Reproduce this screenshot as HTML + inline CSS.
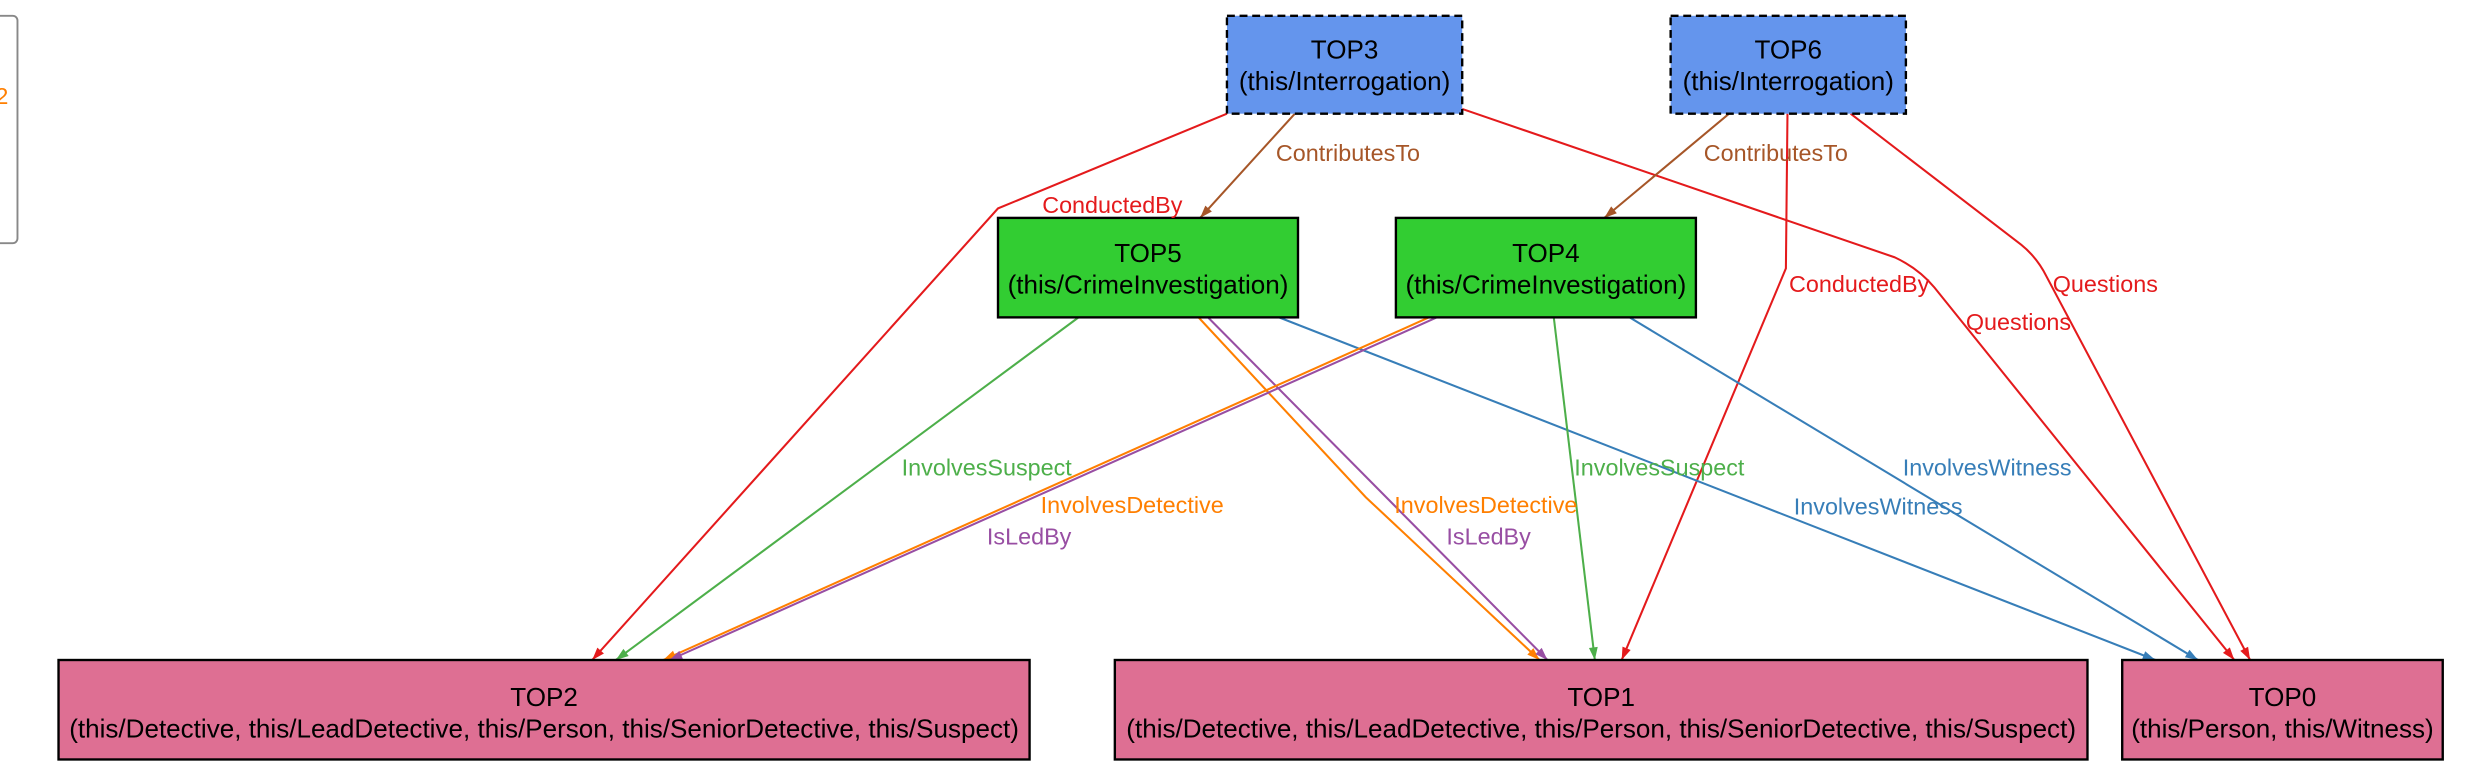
<!DOCTYPE html>
<html><head><meta charset="utf-8"><style>
html,body{margin:0;padding:0;background:#fff;}
svg{display:block;}
text{font-family:"Liberation Sans",sans-serif;}
.bt{font-size:16.5px;fill:#000;text-anchor:middle;}
.lb{font-size:14.8px;}
</style></head><body>
<svg width="2476" height="780" viewBox="0 0 1568 494" xmlns="http://www.w3.org/2000/svg">
<defs>
<marker id="ar" viewBox="0 0 10 10" refX="10" refY="5" markerWidth="9" markerHeight="8" orient="auto" markerUnits="userSpaceOnUse"><path d="M0,1.5 L10,5 L0,8.5 z" fill="context-stroke"/></marker>
</defs>
<g fill="none" stroke-width="1.3">
<path d="M777,72 L632,132 L375,418" stroke="#e41a1c" marker-end="url(#ar)"/>
<path d="M820,72 L760,138" stroke="#a65628" marker-end="url(#ar)"/>
<path d="M926,69 L1200,163 Q1215,170 1225,182 L1415,418" stroke="#e41a1c" marker-end="url(#ar)"/>
<path d="M1095,72 L1016,138" stroke="#a65628" marker-end="url(#ar)"/>
<path d="M1132,72 L1131,170 L1027,418" stroke="#e41a1c" marker-end="url(#ar)"/>
<path d="M1172,72 L1280,155 Q1290,163 1296,175 L1425,418" stroke="#e41a1c" marker-end="url(#ar)"/>
<path d="M683,201 L390,418" stroke="#4daf4a" marker-end="url(#ar)"/>
<path d="M759,201 L865,315 L975,418" stroke="#ff7f00" marker-end="url(#ar)"/>
<path d="M765,201 L980,418" stroke="#984ea3" marker-end="url(#ar)"/>
<path d="M810,201 L1365,418" stroke="#377eb8" marker-end="url(#ar)"/>
<path d="M905,201 L420,418" stroke="#ff7f00" marker-end="url(#ar)"/>
<path d="M910,201 L424,418" stroke="#984ea3" marker-end="url(#ar)"/>
<path d="M984,201 L1010,418" stroke="#4daf4a" marker-end="url(#ar)"/>
<path d="M1032,201 L1392,418" stroke="#377eb8" marker-end="url(#ar)"/>
</g>
<rect x="-10" y="10" width="21" height="144" rx="3" fill="#fff" stroke="#888" stroke-width="1.2"/>
<text x="-3" y="66" class="lb" fill="#ff7f00">2</text>
<rect x="777" y="10" width="149" height="62" fill="#6495ed" stroke="#000" stroke-width="1.5" stroke-dasharray="5,3"/>
<text x="851.5" y="37" class="bt">TOP3</text><text x="851.5" y="57" class="bt">(this/Interrogation)</text>
<rect x="1058" y="10" width="149" height="62" fill="#6495ed" stroke="#000" stroke-width="1.5" stroke-dasharray="5,3"/>
<text x="1132.5" y="37" class="bt">TOP6</text><text x="1132.5" y="57" class="bt">(this/Interrogation)</text>
<rect x="632" y="138" width="190" height="63" fill="#32cd32" stroke="#000" stroke-width="1.5"/>
<text x="727" y="166" class="bt">TOP5</text><text x="727" y="186" class="bt">(this/CrimeInvestigation)</text>
<rect x="884" y="138" width="190" height="63" fill="#32cd32" stroke="#000" stroke-width="1.5"/>
<text x="979" y="166" class="bt">TOP4</text><text x="979" y="186" class="bt">(this/CrimeInvestigation)</text>
<rect x="37" y="418" width="615" height="63" fill="#de6f93" stroke="#000" stroke-width="1.5"/>
<text x="344.5" y="447" class="bt">TOP2</text><text x="344.5" y="467" class="bt">(this/Detective, this/LeadDetective, this/Person, this/SeniorDetective, this/Suspect)</text>
<rect x="706" y="418" width="616" height="63" fill="#de6f93" stroke="#000" stroke-width="1.5"/>
<text x="1014" y="447" class="bt">TOP1</text><text x="1014" y="467" class="bt">(this/Detective, this/LeadDetective, this/Person, this/SeniorDetective, this/Suspect)</text>
<rect x="1344" y="418" width="203" height="63" fill="#de6f93" stroke="#000" stroke-width="1.5"/>
<text x="1445.5" y="447" class="bt">TOP0</text><text x="1445.5" y="467" class="bt">(this/Person, this/Witness)</text>
<g class="lb">
<text x="660" y="135" fill="#e41a1c">ConductedBy</text>
<text x="808" y="102" fill="#a65628">ContributesTo</text>
<text x="1079" y="102" fill="#a65628">ContributesTo</text>
<text x="1133" y="185" fill="#e41a1c">ConductedBy</text>
<text x="1300" y="185" fill="#e41a1c">Questions</text>
<text x="1245" y="209" fill="#e41a1c">Questions</text>
<text x="571" y="301" fill="#4daf4a">InvolvesSuspect</text>
<text x="659" y="325" fill="#ff7f00">InvolvesDetective</text>
<text x="625" y="345" fill="#984ea3">IsLedBy</text>
<text x="883" y="325" fill="#ff7f00">InvolvesDetective</text>
<text x="916" y="345" fill="#984ea3">IsLedBy</text>
<text x="997" y="301" fill="#4daf4a">InvolvesSuspect</text>
<text x="1136" y="326" fill="#377eb8">InvolvesWitness</text>
<text x="1205" y="301" fill="#377eb8">InvolvesWitness</text>
</g>
</svg>
</body></html>
